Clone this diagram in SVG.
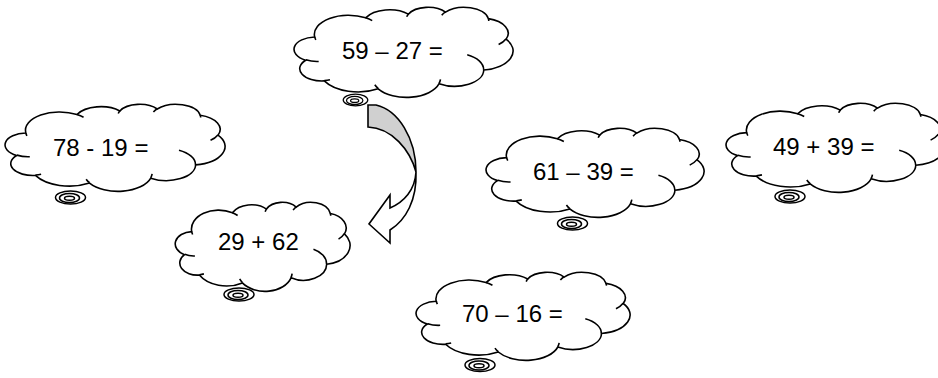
<svg xmlns="http://www.w3.org/2000/svg" xmlns:xlink="http://www.w3.org/1999/xlink" width="938" height="378" viewBox="0 0 938 378">
<style>
.cl{fill:#fff;stroke:#000;stroke-width:1.6;vector-effect:non-scaling-stroke}
.cr{fill:none;stroke:#000;stroke-width:1.6;vector-effect:non-scaling-stroke}
.tl{fill:#fff;stroke:#000;stroke-width:1.5}
.t{font-family:"Liberation Sans",Arial,sans-serif;font-size:24px;fill:#000}
</style>
<defs>
<path id="cloud" class="cl" d="M39,143.7 A67.53,91.9 0 0 1 140.04,52 A53.33,72.67 0 0 1 224.59,34.36 A43.65,59.45 0 0 1 298.35,24.85 A48.57,65.95 0 0 1 383.2,55.81 A53.33,72.73 0 0 1 418.21,154.65 A67.75,92.2 0 0 1 374.07,302.08 A57.85,78.67 0 0 1 285.58,368.18 A67.52,92.15 0 0 1 164.82,392.68 A77.2,105.43 0 0 1 58.06,354.74 A43.6,59.18 0 0 1 21.13,255.54 A43.45,59.45 0 0 1 39,143.7 Z"/>
<path id="crease" class="cr" d="M46.93,261.77 A43.45,59.45 0 0 1 21.59,253.79 M69.28,348.99 A43.6,59.18 0 0 1 58.19,352.81 M164.78,390.9 A67.52,92.15 0 0 1 158.12,373.52 M288.27,347.51 A67.52,92.15 0 0 1 285.6,366.59 M341.29,229.54 A57.85,78.67 0 0 1 373.81,300.9 M417.98,153.54 A53.33,72.73 0 0 1 403.5,180.31 M383.24,54.26 A48.57,65.95 0 0 1 384,66.9 M290.78,39.52 A48.57,65.95 0 0 1 298.2,23.4 M221.41,47.2 A43.65,59.45 0 0 1 225,33.3 M140,51.92 A67.53,91.9 0 0 1 153.01,65.42 M41.27,157.89 A67.53,91.9 0 0 1 39,143.71"/>
<g id="tail">
<ellipse class="tl" cx="0" cy="0" rx="15" ry="6.5"/>
<ellipse class="tl" cx="-1" cy="0.5" rx="10" ry="4.6"/>
<ellipse class="tl" cx="-1" cy="0.8" rx="5" ry="2"/>
</g>
</defs>

<g id="connectors">
<path d="M368,105 L376,105 C398,110 416,138 416,172 C410,150 392,128 368,127 Z" fill="#d0d0d0" stroke="#000" stroke-width="1.6" stroke-linejoin="miter"/>
<path d="M416,172 C415,190 404,202 390,208 L390,195 L369,224 L390,243 L390,230 C406,220 417,200 416,172 Z" fill="#fff" stroke="#000" stroke-width="1.6" stroke-linejoin="miter"/>
</g>

<g id="node-59-27">
<use xlink:href="#tail" transform="translate(355.5,100) scale(0.82,0.9)"/>
<g transform="translate(295,7) scale(0.5046,0.2083)"><use xlink:href="#cloud"/><use xlink:href="#crease"/></g>
<text class="t" x="342" y="59">59 – 27 =</text>
</g>

<g id="node-78-19">
<use xlink:href="#tail" transform="translate(70.5,197.5)"/>
<g transform="translate(6,104) scale(0.5069,0.2014)"><use xlink:href="#cloud"/><use xlink:href="#crease"/></g>
<text class="t" x="53" y="156">78 - 19 =</text>
</g>

<g id="node-29-62">
<use xlink:href="#tail" transform="translate(239,294.5)"/>
<g transform="translate(176,202) scale(0.4028,0.2060)"><use xlink:href="#cloud"/><use xlink:href="#crease"/></g>
<text class="t" x="218" y="250">29 + 62</text>
</g>

<g id="node-61-39">
<use xlink:href="#tail" transform="translate(572.5,223.5)"/>
<g transform="translate(487,128) scale(0.5023,0.2060)"><use xlink:href="#cloud"/><use xlink:href="#crease"/></g>
<text class="t" x="533" y="180">61 – 39 =</text>
</g>

<g id="node-49-39">
<use xlink:href="#tail" transform="translate(790,196.5)"/>
<g transform="translate(727,103) scale(0.5046,0.2060)"><use xlink:href="#cloud"/><use xlink:href="#crease"/></g>
<text class="t" x="773" y="155">49 + 39 =</text>
</g>

<g id="node-70-16">
<use xlink:href="#tail" transform="translate(480,365)"/>
<g transform="translate(417,272) scale(0.4931,0.2037)"><use xlink:href="#cloud"/><use xlink:href="#crease"/></g>
<text class="t" x="462" y="322">70 – 16 =</text>
</g>
</svg>
